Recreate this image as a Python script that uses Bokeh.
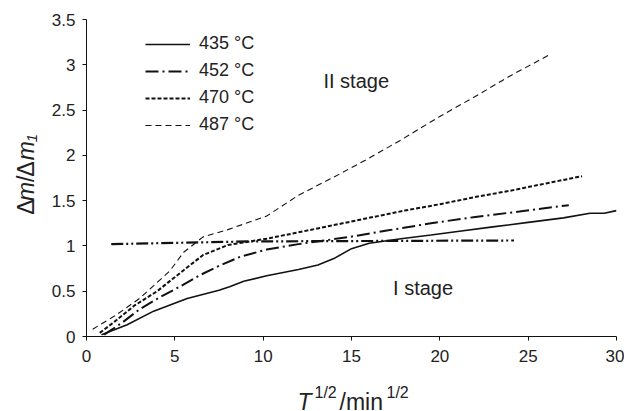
import math
from bokeh.plotting import figure
from bokeh.layouts import row, column
from bokeh.models import Range1d, Label, Legend, LegendItem, FixedTicker
from bokeh.embed import file_html
from bokeh.resources import INLINE

# ---- data ----
x435 = [0.85, 2.3, 3.8, 5.7, 7.5, 8.1, 8.9, 10.2, 12.0, 13.1, 14.0, 15.0, 16.0, 17.8, 19.5, 21.0, 23.0, 25.0, 27.0, 28.5, 29.3, 30.0]
y435 = [0.02, 0.13, 0.28, 0.42, 0.51, 0.55, 0.61, 0.67, 0.74, 0.79, 0.86, 0.97, 1.03, 1.08, 1.12, 1.16, 1.21, 1.26, 1.31, 1.36, 1.36, 1.39]

x452 = [1.0, 2.0, 3.0, 4.2, 5.0, 6.45, 7.5, 8.7, 10.2, 12.0, 14.9, 17.0, 19.5, 22.0, 24.5, 27.3]
y452 = [0.02, 0.15, 0.30, 0.44, 0.52, 0.68, 0.78, 0.88, 0.96, 1.02, 1.10, 1.17, 1.25, 1.32, 1.38, 1.45]

x470 = [0.75, 1.5, 2.7, 4.0, 4.9, 6.6, 8.0, 10.2, 12.0, 14.0, 16.0, 18.0, 20.0, 22.0, 24.0, 26.0, 28.05]
y470 = [0.04, 0.15, 0.34, 0.50, 0.64, 0.90, 1.01, 1.08, 1.15, 1.23, 1.31, 1.39, 1.46, 1.54, 1.61, 1.69, 1.77]

x487 = [0.35, 1.7, 3.0, 4.7, 5.5, 6.6, 8.0, 10.2, 12.0, 14.0, 16.0, 17.8, 20.0, 22.0, 24.0, 26.3]
y487 = [0.08, 0.24, 0.42, 0.72, 0.93, 1.10, 1.18, 1.33, 1.56, 1.76, 1.97, 2.17, 2.43, 2.65, 2.88, 3.12]

x_level = [1.4, 9.3, 24.2]
y_level = [1.02, 1.05, 1.06]

series_names = ["435 \u00b0C", "452 \u00b0C", "470 \u00b0C", "487 \u00b0C"]

x_ticks = [0, 5, 10, 15, 20, 25, 30]
x_tick_labels = ["0", "5", "10", "15", "20", "25", "30"]
y_ticks = [0, 0.5, 1, 1.5, 2, 2.5, 3, 3.5]
y_tick_labels = ["0", "0.5", "1", "1.5", "2", "2.5", "3", "3.5"]

FONT = "Liberation Sans"
TXT = "#222222"
INK = "#111111"

# layout geometry (page pixels)
YL_W = 40            # width of the y-label strip
LEFT = 86            # page x of the frame's left edge
TOP, FH, FW = 19, 317, 530
MAIN_BOTTOM = 31     # room below the frame for tick labels
RIGHT = 8
MAIN_H = TOP + FH + MAIN_BOTTOM
TOTAL_W = LEFT + FW + RIGHT
XL_H = 411 - MAIN_H  # height of the x-label strip

p = figure(
    output_backend="svg", toolbar_location=None,
    frame_width=FW, frame_height=FH,
    x_range=Range1d(0, 30), y_range=Range1d(0, 3.5),
    min_border_left=LEFT - YL_W, min_border_right=RIGHT, min_border_top=TOP, min_border_bottom=MAIN_BOTTOM,
    background_fill_color="white", border_fill_color="white",
)
p.outline_line_color = None
p.grid.visible = False

for ax in (p.xaxis[0], p.yaxis[0]):
    ax.axis_line_color = INK
    ax.axis_line_width = 1
    ax.major_tick_line_color = INK
    ax.major_tick_out = 4
    ax.major_tick_in = 0
    ax.minor_tick_line_color = None
    ax.major_label_text_font = FONT
    ax.major_label_text_font_size = "17px"
    ax.major_label_text_color = TXT

p.xaxis[0].ticker = FixedTicker(ticks=x_ticks)
p.xaxis[0].major_label_overrides = {t: s for t, s in zip(x_ticks, x_tick_labels)}
p.xaxis[0].major_label_standoff = 9
p.yaxis[0].ticker = FixedTicker(ticks=y_ticks)
p.yaxis[0].major_label_overrides = {t: s for t, s in zip(y_ticks, y_tick_labels)}
p.yaxis[0].major_label_standoff = 7

r435 = p.line(x435, y435, line_color=INK, line_width=1.6)
r452 = p.line(x452, y452, line_color=INK, line_width=2.0, line_dash="13 4 2 4")
r470 = p.line(x470, y470, line_color=INK, line_width=2.0, line_dash="4 2")
r487 = p.line(x487, y487, line_color=INK, line_width=1.1, line_dash="6 4")
p.line(x_level, y_level, line_color=INK, line_width=2.2, line_dash="12 3 2 3 2 3")

legend = Legend(
    items=[LegendItem(label=n, renderers=[r]) for n, r in zip(series_names, [r435, r452, r470, r487])],
    location=(59, 201),
    glyph_width=45, glyph_height=20, label_height=20, spacing=6,
    label_standoff=9, padding=0, margin=0,
    border_line_color=None, background_fill_alpha=0,
    label_text_font=FONT, label_text_font_size="18px", label_text_color=TXT,
)
p.add_layout(legend)


def lab(fig, x, y, text, size, style="normal", angle=0.0):
    fig.add_layout(Label(x=x, y=y, text=text,
                         text_font=FONT, text_font_size=size,
                         text_font_style=style, text_color=TXT, angle=angle,
                         text_align="left", text_baseline="alphabetic"))


lab(p, 13.41, 2.82, "II stage", "20px")
lab(p, 17.35, 0.534, "I stage", "20px")


def strip(w, h):
    # a text-only strip whose data coordinates are its own pixels (y measured from its bottom)
    f = figure(output_backend="svg", toolbar_location=None, width=w, height=h,
               x_range=Range1d(0, w), y_range=Range1d(0, h),
               x_axis_type=None, y_axis_type=None,
               min_border=0, min_border_left=0, min_border_right=0,
               min_border_top=0, min_border_bottom=0,
               background_fill_color="white", border_fill_color="white")
    f.outline_line_color = None
    f.grid.visible = False
    return f


# y axis label strip: Δm/Δm_1 (rotated); y = MAIN_H - page y
yl = strip(YL_W, MAIN_H)
A = math.pi / 2
lab(yl, 25, MAIN_H - 226, "\u0394", "23px", angle=A)
lab(yl, 25, MAIN_H - 210, "m", "23px", "italic", angle=A)
lab(yl, 25, MAIN_H - 188, "/", "23px", angle=A)
lab(yl, 25, MAIN_H - 182, "\u0394", "23px", angle=A)
lab(yl, 25, MAIN_H - 163, "m", "23px", "italic", angle=A)
lab(yl, 31, MAIN_H - 142, "1", "15px", "italic", angle=A)

# x axis label strip: T^{1/2}/min^{1/2}; y = 411 - page y
xl = strip(TOTAL_W, XL_H)
lab(xl, 297, 411 - 401, "T", "23px", "italic")
lab(xl, 314, 411 - 392, "1/2", "16px")
lab(xl, 339, 411 - 401, "/min", "23px")
lab(xl, 386, 411 - 392, "1/2", "16px")

layout = column(row(yl, p, spacing=0), xl, spacing=0)

open("out.html", "w").write(file_html(layout, INLINE))
